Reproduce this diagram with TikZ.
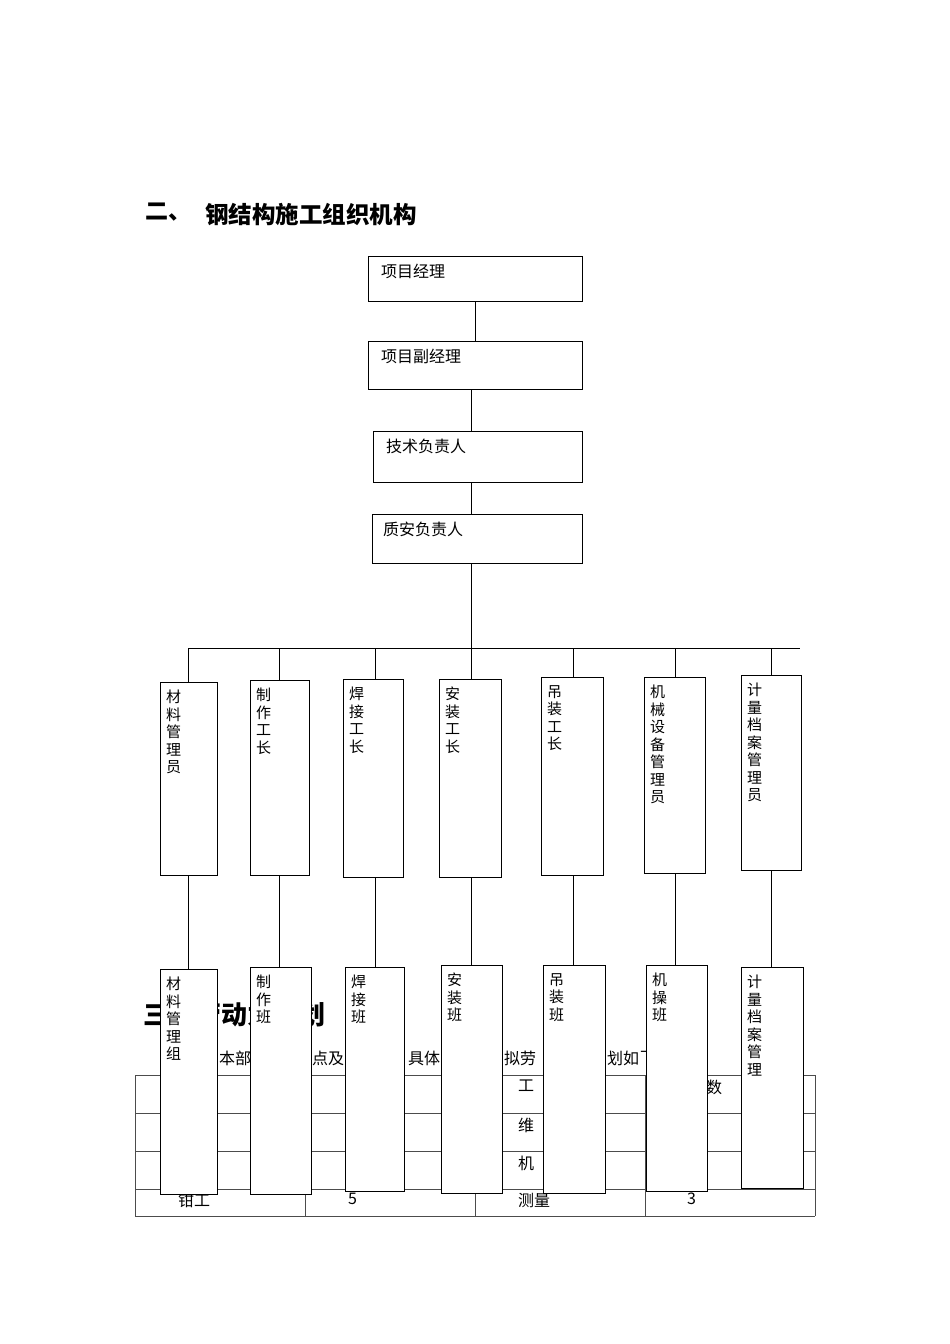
\documentclass[tikz,border=0pt]{standalone}
\usepackage{fontspec}
\setmainfont{Noto Sans CJK SC}
\usepackage{tikz}
\usetikzlibrary{positioning}

\tikzset{
	box/.style={draw, thick, fill=white, inner sep=0pt, anchor=north west},
	lbl/.style={anchor=north west, inner sep=0pt, font=\fontsize{16}{18}\selectfont},
	vlbl/.style={lbl, align=center, font=\fontsize{15}{17.5}\selectfont},
	conn/.style={thick},
	grid/.style={draw=black!70, thick}
}

\begin{document}
\begin{tikzpicture}[x=1pt, y=-1pt]
	\useasboundingbox (0,0) rectangle (950,1344);

	% Headings and text that the chart covers
	\node[lbl, font=\fontsize{23}{26}\selectfont\bfseries] (head) at (145,203) {二、};
	\node[lbl, font=\fontsize{23.5}{26}\selectfont\bfseries] (headtxt) at (205,203) {钢结构施工组织机构};
	\node[lbl, font=\fontsize{26}{28}\selectfont\bfseries] (head3) at (143,1002) {三、劳动力计划};
	\foreach \x/\t in {219/本部, 312/点及, 408/具体, 504/拟劳, 607/划如, 640/下}
		\node[lbl] at (\x,1051) {\t};

	% Table
	\foreach \y in {1075, 1113, 1151, 1189, 1216}
		\draw[grid] (135,\y) -- (815,\y);
	\foreach \x in {135, 305, 475, 645, 815}
		\draw[grid] (\x,1075) -- (\x,1216);
	\foreach \x/\y/\t in {518/1080/工, 706/1080/数, 518/1118/维, 518/1156/机, 178/1193/钳工, 348/1193/5, 518/1193/测量, 687/1193/3}
		\node[lbl] at (\x,\y) {\t};

	% Top of the chart
	\node[box, minimum width=214pt, minimum height=45pt] (pm) at (368,256) {};
	\node[box, minimum width=214pt, minimum height=48pt] (dpm) at (368,341) {};
	\node[box, minimum width=209pt, minimum height=51pt] (tech) at (373,431) {};
	\node[box, minimum width=210pt, minimum height=49pt] (qs) at (372,514) {};
	\node[lbl] at ([shift={(13,8)}]pm.north west) {项目经理};
	\node[lbl] at ([shift={(13,8)}]dpm.north west) {项目副经理};
	\node[lbl] at ([shift={(13,8)}]tech.north west) {技术负责人};
	\node[lbl] at ([shift={(11,8)}]qs.north west) {质安负责人};

	\coordinate (bus) at (471,648);
	\draw[conn] (pm.south) -- (pm.south |- dpm.north);
	\draw[conn] (bus |- dpm.south) -- (bus |- tech.north);
	\draw[conn] (bus |- tech.south) -- (bus |- qs.north);
	\draw[conn] (bus |- qs.south) -- (bus);
	\draw[conn] (188,648) -- (800,648);

	% Two rows of tall boxes
	\foreach \i/\xa/\wa/\ta/\ha/\xb/\wb/\tb/\hb/\xl/\la/\lb in {
		1/160/57/682/193/160/57/969/225/188/{材\\料\\管\\理\\员}/{材\\料\\管\\理\\组},
		2/250/59/680/195/250/61/967/227/279/{制\\作\\工\\长}/{制\\作\\班},
		3/343/60/679/198/345/59/967/224/375/{焊\\接\\工\\长}/{焊\\接\\班},
		4/439/62/679/198/441/61/965/228/471/{安\\装\\工\\长}/{安\\装\\班},
		5/541/62/677/198/543/62/965/228/573/{吊\\装\\工\\长}/{吊\\装\\班},
		6/644/61/677/196/646/61/965/226/675/{机\\械\\设\\备\\管\\理\\员}/{机\\操\\班},
		7/741/60/675/195/741/62/967/221/771/{计\\量\\档\\案\\管\\理\\员}/{计\\量\\档\\案\\管\\理}} {
		\coordinate (top\i) at (\xl,648);
		\node[box, minimum width=\wa pt, minimum height=\ha pt] (lead\i) at (\xa,\ta) {};
		\node[box, minimum width=\wb pt, minimum height=\hb pt] (crew\i) at (\xb,\tb) {};
		\draw[conn] (top\i) -- (top\i |- lead\i.north);
		\draw[conn] (top\i |- lead\i.south) -- (top\i |- crew\i.north);
		\node[vlbl] at ([shift={(6,8)}]lead\i.north west) {\la};
		\node[vlbl] at ([shift={(6,8)}]crew\i.north west) {\lb};
	}
\end{tikzpicture}
\end{document}
